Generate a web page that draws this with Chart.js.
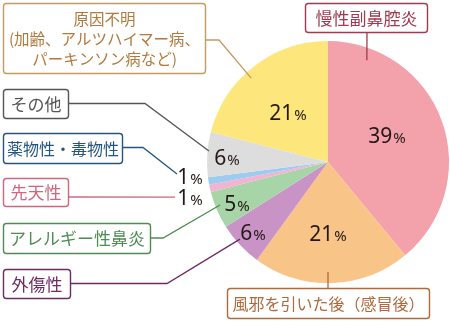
<!DOCTYPE html>
<html lang="ja">
<head>
<meta charset="utf-8">
<script src="https://cdn.jsdelivr.net/npm/chart.js@4/dist/chart.umd.min.js"></script>
<style>
  html, body { margin: 0; padding: 0; background: #fff; }
</style>
</head>
<body>
<canvas id="chart" width="450" height="322"></canvas>
<script>
// 嗅覚障害の原因（割合 %）
const causes = [
  '慢性副鼻腔炎',
  '風邪を引いた後（感冒後）',
  '外傷性',
  'アレルギー性鼻炎',
  '先天性',
  '薬物性・毒物性',
  'その他',
  '原因不明\n(加齢、アルツハイマー病、\nパーキンソン病など)'
];
const shares = [39, 21, 6, 5, 1, 1, 6, 21];

const sliceColors = ['#f3a2ab', '#f9c487', '#c993c6', '#a7d5a7', '#f2b4d0', '#9ecbf0', '#dddddd', '#fde77c'];

// Callout boxes and leader lines.
// end: [angle from top in degrees, fraction of radius]; pct: [angle nudge from slice middle, fraction of radius]
const callouts = [
  { box: [305, 3, 122, 29], color: '#a03a50', size: 17, path: [[367, 32]], end: [20.9, 0.90], pct: [-4.8, 0.536] },
  { box: [227, 288, 202, 30], color: '#b0693a', size: 16, path: [[328, 288]], end: [180, 0.91], pct: [1.8, 0.587] },
  { box: [3, 269, 67, 29], color: '#6d2b63', size: 17, path: [[70, 283.5], [167, 283.5]], end: [228.8, 0.967], pct: [0.17, 0.848] },
  { box: [3, 223, 147, 30], color: '#4f8b53', size: 17, path: [[150, 238], [163, 238]], end: [248.3, 0.96], pct: [-0.85, 0.825] },
  { box: [3, 178, 65, 28], color: '#d0667e', size: 17, path: [[68, 197]], end: [257.1, 1.297], pct: [-2.0, 1.179] },
  { box: [3, 133, 119, 30], color: '#25557f', size: 16, path: [[122, 147.5], [143, 147.5]], end: [265.46, 1.252], pct: [2.8, 1.147] },
  { box: [3, 89, 65, 29], color: '#555555', size: 17, path: [[68, 103.5], [145, 103.5]], end: [275.3, 0.988], pct: [-0.77, 0.836] },
  { box: [3, 3, 202, 70], color: '#c49a62', textColor: '#b07a3c', size: 15.5, lineH: 20, path: [[205, 40], [219, 40]], end: [317.5, 0.94], pct: [-0.86, 0.529] }
];

const JP = '"Noto Sans CJK JP", "Noto Sans", sans-serif';
const NUM = '"Noto Sans", "Open Sans", sans-serif';

function polar(cx, cy, deg, r) {
  const a = (deg - 90) * Math.PI / 180;
  return [cx + Math.cos(a) * r, cy + Math.sin(a) * r];
}

function roundRect(ctx, x, y, w, h, r) {
  ctx.beginPath();
  ctx.moveTo(x + r, y);
  ctx.lineTo(x + w - r, y);
  ctx.arcTo(x + w, y, x + w, y + r, r);
  ctx.lineTo(x + w, y + h - r);
  ctx.arcTo(x + w, y + h, x + w - r, y + h, r);
  ctx.lineTo(x + r, y + h);
  ctx.arcTo(x, y + h, x, y + h - r, r);
  ctx.lineTo(x, y + r);
  ctx.arcTo(x, y, x + r, y, r);
  ctx.closePath();
}

const calloutPlugin = {
  id: 'callouts',
  afterDatasetsDraw(chart) {
    const ctx = chart.ctx;
    const meta = chart.getDatasetMeta(0);
    const values = chart.data.datasets[0].data;
    const labels = chart.data.labels;
    ctx.save();
    meta.data.forEach((arc, i) => {
      const p = arc.getProps(['x', 'y', 'startAngle', 'endAngle', 'outerRadius'], true);
      const c = callouts[i];
      const midDeg = ((p.startAngle + p.endAngle) / 2) * 180 / Math.PI + 90;

      // leader line
      const end = polar(p.x, p.y, c.end[0], c.end[1] * p.outerRadius);
      ctx.strokeStyle = c.color;
      ctx.lineWidth = 1.3;
      ctx.beginPath();
      ctx.moveTo(c.path[0][0], c.path[0][1]);
      for (let k = 1; k < c.path.length; k++) ctx.lineTo(c.path[k][0], c.path[k][1]);
      ctx.lineTo(end[0], end[1]);
      ctx.stroke();

      // box
      const [bx, by, bw, bh] = c.box;
      ctx.fillStyle = '#ffffff';
      roundRect(ctx, bx + 0.5, by + 0.5, bw, bh, 3);
      ctx.fill();
      ctx.lineWidth = 1.4;
      ctx.strokeStyle = c.color;
      ctx.stroke();

      // box text
      const lines = labels[i].split('\n');
      const lh = c.lineH || c.size * 1.2;
      ctx.fillStyle = c.textColor || c.color;
      ctx.font = `400 ${c.size}px ${JP}`;
      ctx.textAlign = 'center';
      ctx.textBaseline = 'middle';
      const cy0 = by + bh / 2 + 1 - (lines.length - 1) * lh / 2;
      lines.forEach((t, k) => ctx.fillText(t, bx + bw / 2 + 0.5, cy0 + k * lh));

      // percentage
      const pos = polar(p.x, p.y, midDeg + c.pct[0], c.pct[1] * p.outerRadius);
      const num = String(values[i]);
      ctx.font = `400 21px ${NUM}`;
      const wNum = ctx.measureText(num).width;
      ctx.font = `400 15px ${NUM}`;
      const wPct = ctx.measureText('%').width;
      const x0 = pos[0] - (wNum + wPct + 1) / 2;
      const base = pos[1] + 7.5;
      ctx.fillStyle = '#231815';
      ctx.textAlign = 'left';
      ctx.textBaseline = 'alphabetic';
      ctx.font = `400 21px ${NUM}`;
      ctx.fillText(num, x0, base);
      ctx.font = `400 15px ${NUM}`;
      ctx.fillText('%', x0 + wNum + 1, base);
    });
    ctx.restore();
  }
};

new Chart(document.getElementById('chart'), {
  type: 'pie',
  data: {
    labels: causes,
    datasets: [{
      data: shares,
      backgroundColor: sliceColors,
      borderWidth: 0,
      radius: 121
    }]
  },
  options: {
    responsive: false,
    animation: false,
    events: [],
    layout: { padding: { left: 206, right: 0, top: 40, bottom: 38 } },
    plugins: {
      legend: { display: false },
      tooltip: { enabled: false }
    }
  },
  plugins: [calloutPlugin]
});
</script>
</body>
</html>
